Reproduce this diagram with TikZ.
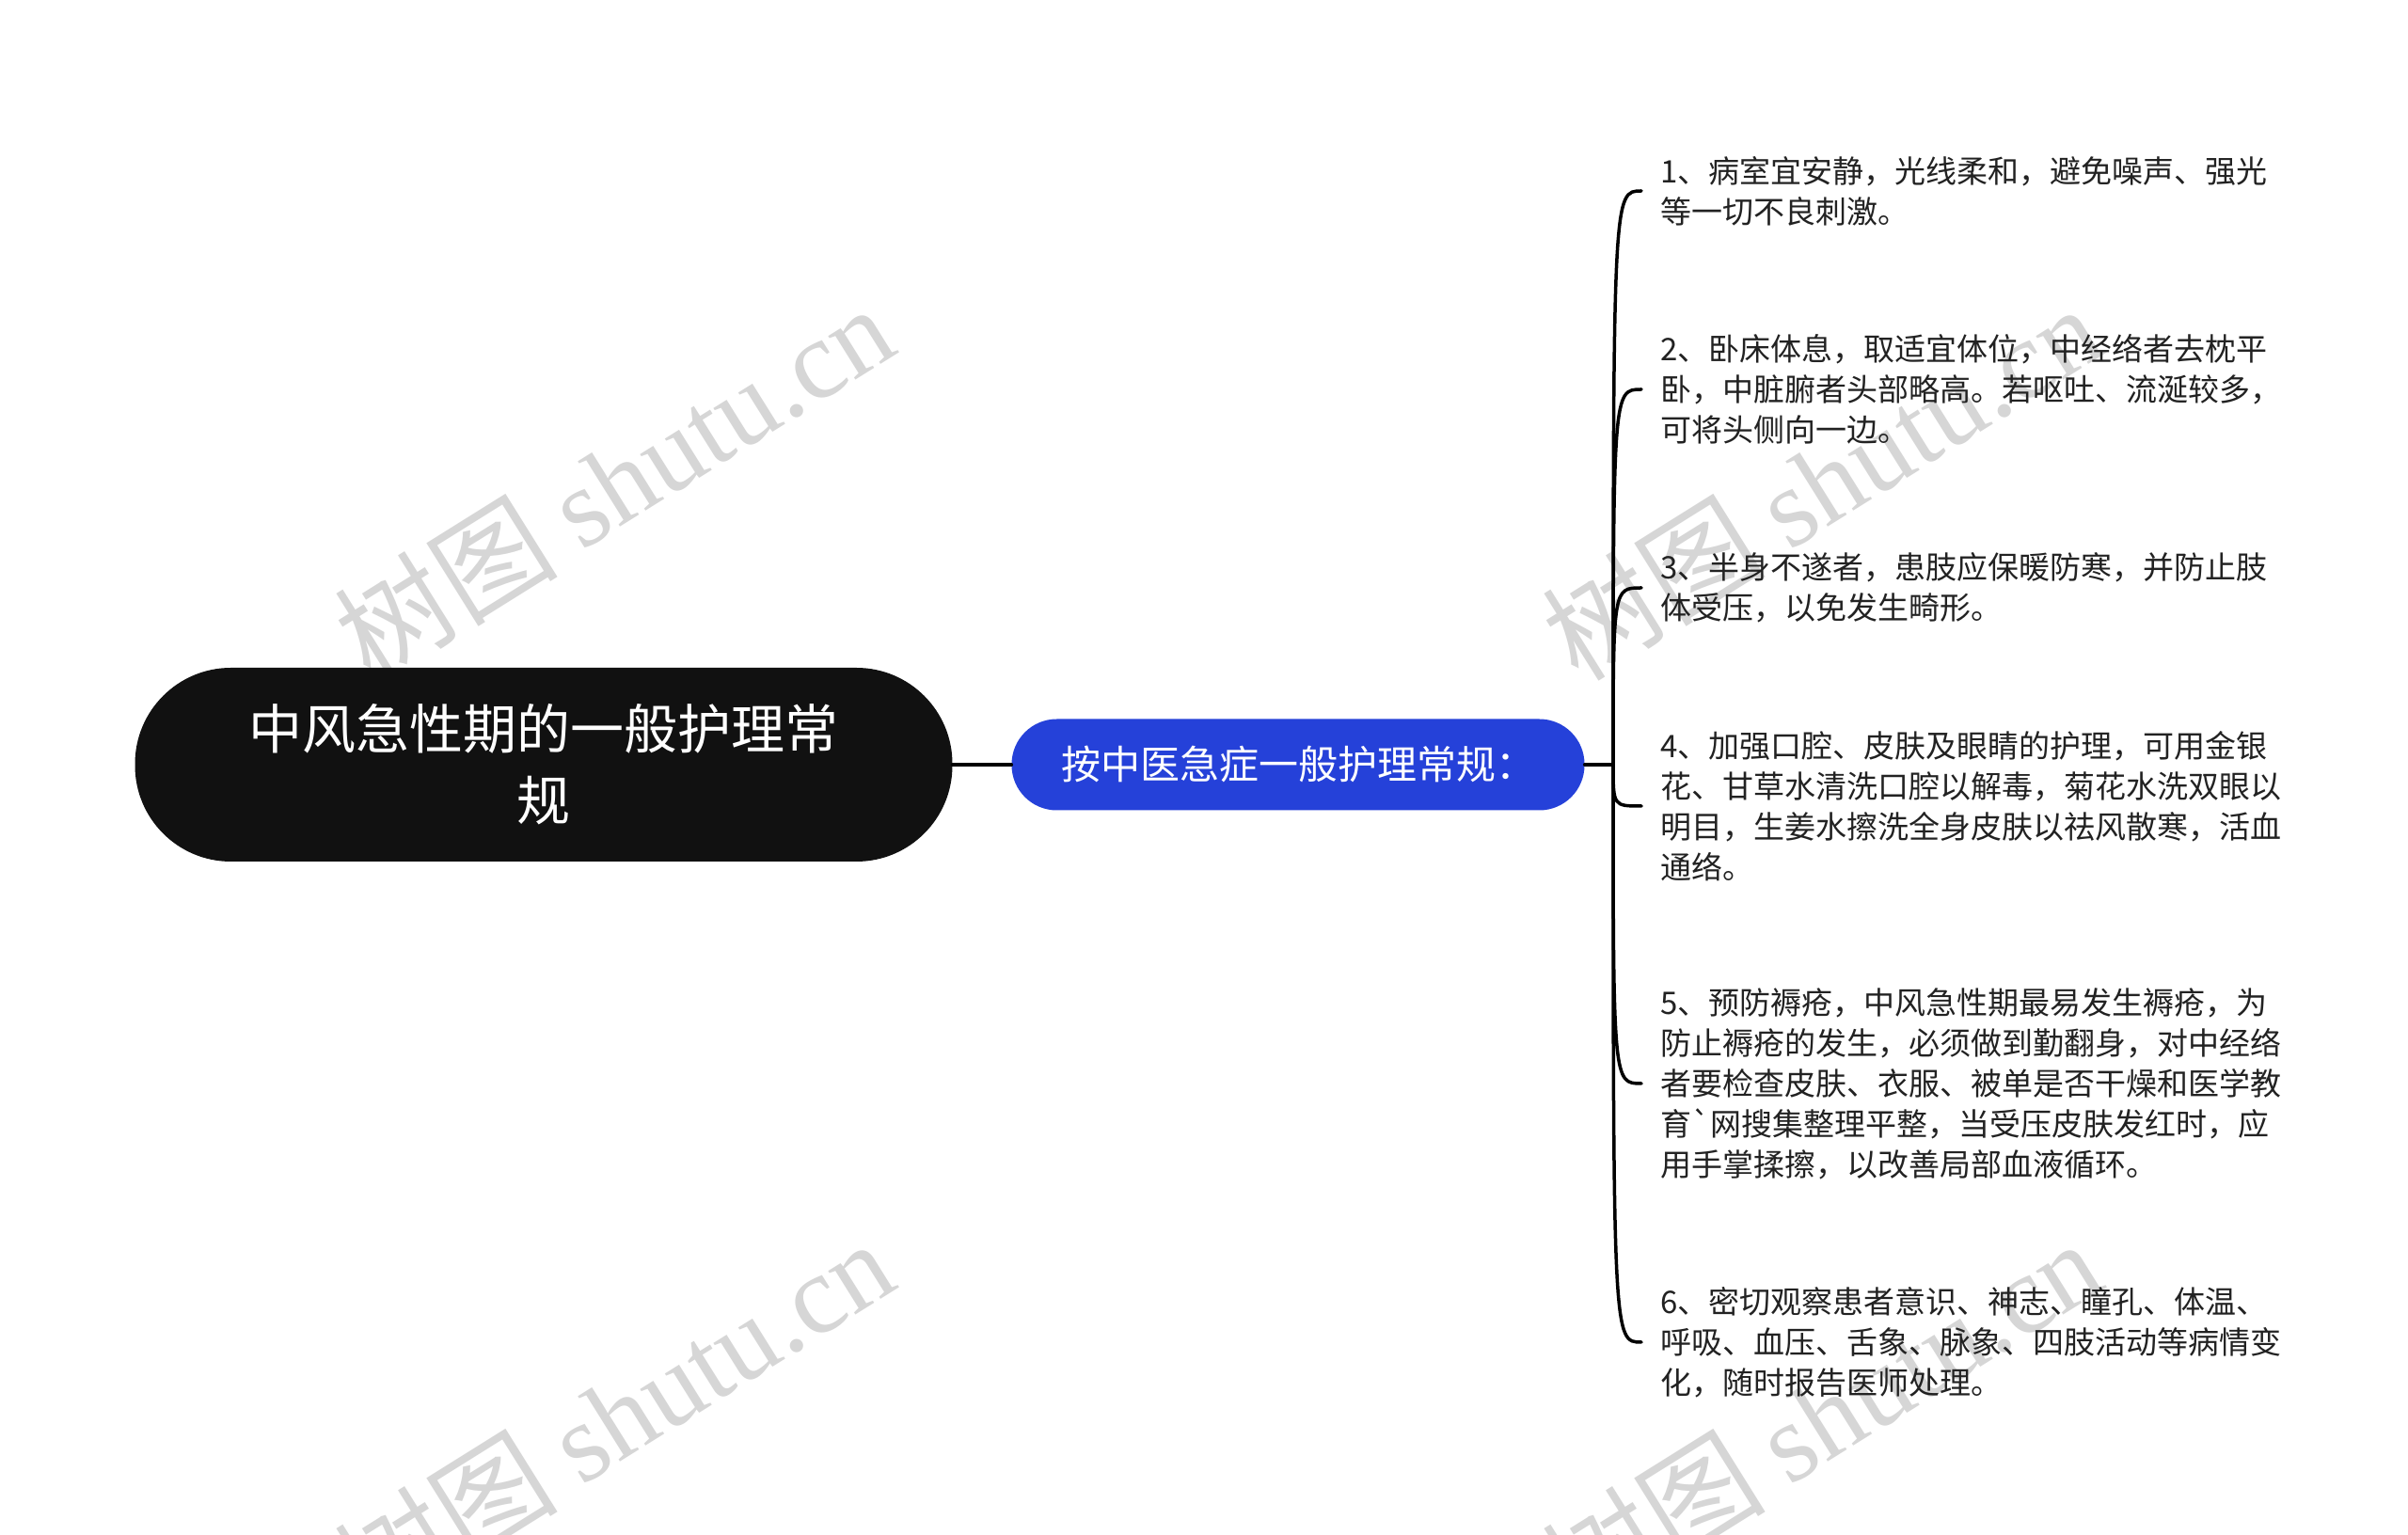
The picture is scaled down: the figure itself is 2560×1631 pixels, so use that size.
\documentclass[tikz,border=0pt]{standalone}
\usepackage{fontspec}
\newfontfamily\cjkfont{Noto Sans CJK SC}
\newfontfamily\wmfont{Liberation Serif}
\usetikzlibrary{positioning}
\definecolor{rootblack}{RGB}{17,17,17}
\definecolor{topicblue}{RGB}{37,65,217}
\definecolor{leafgray}{RGB}{34,34,34}
\definecolor{wmgray}{RGB}{214,214,214}

\begin{document}
\begin{tikzpicture}
          [x=1pt, y=1pt,
          root/.style={fill=rootblack, text=white, rounded corners=102pt, minimum width=869pt, minimum height=206pt,
              align=center, font=\cjkfont\fontsize{57}{76}\selectfont},
          topic/.style={fill=topicblue, text=white, rounded corners=48pt, minimum width=609pt, minimum height=97pt,
              font=\cjkfont\fontsize{42}{48}\selectfont},
          leaf/.style={anchor=west, align=left, inner xsep=20pt, inner ysep=0pt, text=leafgray,
              font=\cjkfont\fontsize{33}{43}\selectfont},
          wmark/.style={text=wmgray, rotate=32, font=\fontsize{119}{119}\selectfont},
          branch/.style={draw, line width=3.5pt, line cap=round}]

          \fill[white] (0,0) rectangle (2560,1631);
          \useasboundingbox (0,0) rectangle (2560,1631);

          % watermarks
          \node [wmark] (wmtl) at (652,1119) {\cjkfont 树图 \wmfont shutu.cn};
          \node [wmark] (wmbl) at (652,125) {\cjkfont 树图 \wmfont shutu.cn};
          \node [wmark] (wmtr) at (1936,1119) {\cjkfont 树图 \wmfont shutu.cn};
          \node [wmark] (wmbr) at (1936,125) {\cjkfont 树图 \wmfont shutu.cn};

          \node [root] (stroke) at (578,818) {中风急性期的一般护理常\\规};
          \node [topic] (rules) at (1380,818) {按中医急症一般护理常规：};
          \coordinate (hub) at (1715,818);

          \node [leaf] (l1) at (1745,1428) {1、病室宜安静，光线柔和，避免噪声、强光\\等一切不良刺激。};
          \node [leaf] (l2) at (1745,1217) {2、卧床体息，取适宜体位，中经络者去枕平\\卧，中脏腑者头部略高。若呕吐、流涎较多，\\可将头侧向一边。};
          \node [leaf] (l3) at (1745,1006) {3、半身不遂者，患肢应保暖防寒，并防止肢\\体受压，以免发生畸形。};
          \node [leaf] (l4) at (1745,774) {4、加强口腔、皮肤及眼睛的护理，可用金银\\花、甘草水清洗口腔以解毒，菊花水洗双眼以\\明目，生姜水擦洗全身皮肤以祛风散寒，活血\\通络。};
          \node [leaf] (l5) at (1745,479) {5、预防褥疮，中风急性期最易发生褥疮，为\\防止褥疮的发生，必须做到勤翻身，对中经络\\者要检查皮肤、衣服、被单是否干燥和医学教\\育`网搜集整理平整，当受压皮肤发红时，应\\用手掌揉擦，以改善局部血液循环。};
          \node [leaf] (l6) at (1745,204) {6、密切观察患者意识、神志、瞳孔、体温、\\呼吸、血压、舌象、脉象、四肢活动等病情变\\化，随时报告医师处理。};

          \begin{scope}[every path/.style=branch]
              \path (stroke) -- (rules);
              \path (rules) -- (hub);
              \foreach \i in {1,...,6}
                  \path (hub) .. controls (hub |- l\i.west) .. (l\i.west);
          \end{scope}
  \end{tikzpicture}
\end{document}
